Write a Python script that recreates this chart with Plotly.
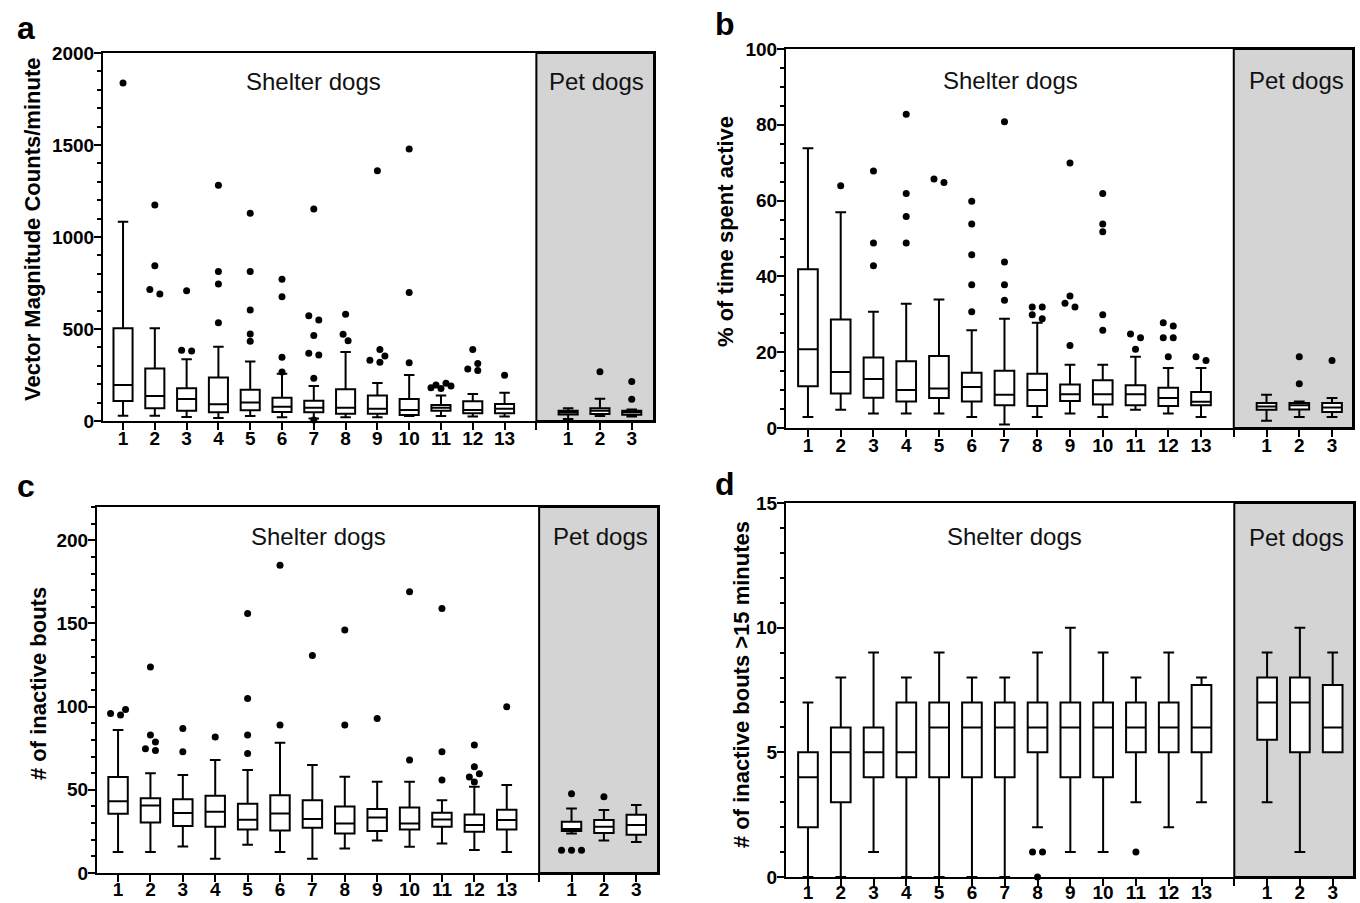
import numpy as np
import plotly.graph_objects as go

W, H = 1360, 903

# ---------------- categories / tick labels ----------------
shelter_labels = ["1", "2", "3", "4", "5", "6", "7", "8", "9", "10", "11", "12", "13"]
pet_labels = ["1", "2", "3"]
group_names = ["Shelter dogs", "Pet dogs"]

# ---------------- panel a: Vector Magnitude Counts/minute ----------------
a_lower = [29, 29, 22, 16, 27, 20, 14, 20, 20, 27, 27, 24, 24, 11, 27, 24]
a_q1 = [109, 69, 56, 47, 58, 49, 47, 40, 40, 33, 56, 42, 42, 36, 38, 34]
a_med = [196, 136, 120, 91, 100, 78, 72, 72, 67, 60, 72, 60, 67, 47, 56, 47]
a_q3 = [504, 286, 178, 236, 170, 127, 110, 172, 139, 120, 87, 107, 92, 56, 69, 56]
a_upper = [1083, 504, 335, 404, 324, 257, 190, 375, 207, 250, 138, 147, 154, 69, 121, 63]
a_out = [[1837], [1174, 844, 715, 690], [708, 385, 380], [1281, 813, 744, 534],
         [1129, 813, 603, 473, 433], [770, 675, 346, 266],
         [1152, 572, 549, 464, 368, 359, 232, 6], [580, 471, 436],
         [1360, 389, 353, 330, 319], [1478, 699, 317], [205, 196, 190, 181, 176],
         [389, 313, 283, 274], [248], [], [268], [214, 118]]

# ---------------- panel b: % of time spent active ----------------
b_lower = [2.9, 4.8, 3.8, 3.8, 3.8, 2.9, 0.9, 2.9, 3.8, 2.9, 4.8, 3.8, 2.9, 1.9, 2.9, 2.9]
b_q1 = [11.0, 9.1, 8.0, 7.0, 7.9, 7.0, 6.0, 5.8, 7.1, 6.2, 6.0, 5.8, 6.0, 4.8, 4.9, 4.2]
b_med = [20.8, 14.8, 12.9, 10.0, 10.4, 10.8, 8.8, 10.0, 8.9, 8.9, 8.9, 7.9, 6.9, 5.7, 6.0, 5.4]
b_q3 = [41.9, 28.6, 18.6, 17.6, 19.0, 14.6, 15.1, 14.3, 11.5, 12.6, 11.3, 10.6, 9.5, 6.6, 6.6, 6.6]
b_upper = [73.8, 56.9, 30.7, 32.8, 33.9, 25.8, 28.8, 27.8, 16.7, 16.7, 18.8, 15.8, 15.8, 8.8, 7.0, 7.9]
b_out = [[], [63.9], [67.8, 48.8, 42.8], [82.8, 61.9, 55.8, 48.8], [65.7, 64.8],
         [59.8, 53.8, 45.7, 37.8, 30.7], [80.8, 43.8, 37.8, 33.7], [31.9, 31.9, 29.9, 28.8],
         [69.9, 34.8, 32.9, 31.9, 21.8], [61.9, 53.8, 51.8, 29.9, 25.8], [24.8, 23.8, 20.8],
         [27.8, 26.9, 23.8, 23.8, 18.8], [18.8, 17.8], [], [18.8, 11.7], [17.8]]

# ---------------- panel c: # of inactive bouts ----------------
c_lower = [12.6, 12.6, 16, 8.6, 17, 12.6, 8.6, 14.8, 19.6, 15.8, 17.8, 13.8, 12.6, 23.8, 19.6, 18.6]
c_q1 = [35.6, 30.4, 28.2, 27.8, 26.2, 25.6, 27.2, 23.8, 25.2, 26.2, 27.8, 24.8, 26.2, 25.2, 24, 23]
c_med = [43.2, 40.6, 36, 36.8, 32, 35.8, 32.4, 29.8, 33.4, 29.8, 32.2, 28.8, 31.8, 26.4, 27.8, 28.8]
c_q3 = [57.7, 45, 44.4, 46.4, 41.6, 46.8, 43.8, 40, 38.4, 39.4, 36.2, 35.2, 38, 30.8, 31.8, 35]
c_upper = [85.9, 59.9, 58.9, 67.9, 61.9, 78.3, 64.9, 57.9, 54.9, 54.9, 43.8, 51.9, 52.9, 38.8, 37.8, 40.8]
c_out = [[98.3, 95.9, 94.9], [123.8, 83, 78.7, 74.7, 73.7], [86.9, 72.9], [81.8],
         [156, 104.9, 82.9, 71.9], [185, 88.9], [130.8], [146, 88.9], [92.9], [169, 67.9],
         [159, 72.9, 55.9], [76.9, 63.9, 59.7, 57.7, 54.7], [99.9], [47.6, 13.6, 13.6, 13.6],
         [45.8], []]

# ---------------- panel d: # of inactive bouts >15 minutes ----------------
d_lower = [0, 0, 1, 0, 0, 0, 0, 2, 1, 1, 3, 2, 3, 3, 1, 5]
d_q1 = [2, 3, 4, 4, 4, 4, 4, 5, 4, 4, 5, 5, 5, 5.5, 5, 5]
d_med = [4, 5, 5, 5, 6, 6, 6, 6, 6, 6, 6, 6, 6, 7, 7, 6]
d_q3 = [5, 6, 6, 7, 7, 7, 7, 7, 7, 7, 7, 7, 7.7, 8, 8, 7.7]
d_upper = [7, 8, 9, 8, 9, 8, 8, 9, 10, 9, 8, 9, 8, 9, 10, 9]
d_out = [[], [], [], [], [], [], [], [1, 1, 0], [], [], [1], [], [], [], [], []]

# ---------------- layout helpers ----------------
FONT = "Arial, Liberation Sans, sans-serif"
n_sh, n_pet = len(shelter_labels), len(pet_labels)
divider = n_sh + 1
positions = list(range(1, n_sh + 1)) + list(range(divider + 1, divider + 1 + n_pet))


def px_dom(p0, p1, total, flip=False):
    if flip:
        return [1 - p1 / total, 1 - p0 / total]
    return [p0 / total, p1 / total]


panels = [
    dict(letter="a", title="Vector Magnitude Counts/minute",
         stats=(a_lower, a_q1, a_med, a_q3, a_upper), out=a_out,
         xpx=(103, 654), ypx=(53, 421), xr=[0.37, 17.70], yr=[0, 2000], dtick=500, minor=100,
         letter_pos=(15, 28), title_pos=(32, 230), xstand=-8,
         shelter_pos=(313, 81), pet_pos=(596, 81)),
    dict(letter="b", title="% of time spent active",
         stats=(b_lower, b_q1, b_med, b_q3, b_upper), out=b_out,
         xpx=(786, 1353), ypx=(49, 428), xr=[0.33, 17.64], yr=[0, 100], dtick=20, minor=5,
         letter_pos=(713, 24), title_pos=(726, 232), xstand=-8,
         shelter_pos=(1010, 80), pet_pos=(1296, 80)),
    dict(letter="c", title="# of inactive bouts",
         stats=(c_lower, c_q1, c_med, c_q3, c_upper), out=c_out,
         xpx=(97, 658), ypx=(507, 873), xr=[0.35, 17.67], yr=[0, 220], dtick=50, minor=10,
         letter_pos=(15, 486), title_pos=(38, 684), xstand=-9,
         shelter_pos=(318, 536), pet_pos=(600, 536)),
    dict(letter="d", title="# of inactive bouts >15 minutes",
         stats=(d_lower, d_q1, d_med, d_q3, d_upper), out=d_out,
         xpx=(786, 1354), ypx=(503, 877), xr=[0.33, 17.65], yr=[0, 15], dtick=5, minor=1,
         letter_pos=(713, 484), title_pos=(741, 684), xstand=-10,
         shelter_pos=(1014, 536), pet_pos=(1296, 537)),
]


def swarm(vals, ppu_y, step=5.0, diam=7.0, maxoff=10.0):
    """Beeswarm offsets (in px) for outlier dots of one box."""
    n = len(vals)
    if n == 0:
        return []
    order = sorted(range(n), key=lambda i: vals[i])
    cands = [0.0]
    k = 1
    while k * step <= maxoff + 1e-9:
        cands += [-k * step, k * step]
        k += 1
    placed = {}
    for i in order:
        y = vals[i] * ppu_y
        best, bestd = 0.0, -1.0
        for c in cands:
            ds = [np.hypot(c - placed[j], y - vals[j] * ppu_y) for j in placed]
            dmin = min(ds) if ds else 1e9
            if dmin >= diam:
                best = c
                break
            if dmin > bestd:
                bestd, best = dmin, c
        placed[i] = best
    # recentre each cluster of touching dots
    clusters, cur = [], [order[0]]
    for a, b in zip(order[:-1], order[1:]):
        if (vals[b] - vals[a]) * ppu_y < diam:
            cur.append(b)
        else:
            clusters.append(cur)
            cur = [b]
    clusters.append(cur)
    for cl in clusters:
        offs = [placed[i] for i in cl]
        shift = (max(offs) + min(offs)) / 2
        for i in cl:
            placed[i] -= shift
    return [placed[i] for i in range(n)]


fig = go.Figure()
layout = dict(template="none", width=W, height=H, autosize=False,
              margin=dict(l=0, r=0, t=0, b=0, pad=0, autoexpand=False),
              paper_bgcolor="white", plot_bgcolor="white", showlegend=False,
              shapes=[], annotations=[], font=dict(family=FONT, color="black"))

for k, p in enumerate(panels):
    sfx = "" if k == 0 else str(k + 1)
    xa, ya = "x" + sfx, "y" + sfx
    xdom = px_dom(*p["xpx"], W)
    ydom = px_dom(*p["ypx"], H, flip=True)
    ppu_x = (p["xpx"][1] - p["xpx"][0]) / (p["xr"][1] - p["xr"][0])
    ppu_y = (p["ypx"][1] - p["ypx"][0]) / (p["yr"][1] - p["yr"][0])

    tickfont = dict(family=FONT, size=19, color="black", weight="bold")
    layout["xaxis" + sfx] = dict(
        domain=xdom, range=p["xr"], anchor=ya, automargin=False,
        tickmode="array", tickvals=positions[:n_sh] + [divider] + positions[n_sh:],
        ticktext=shelter_labels + [""] + pet_labels,
        ticks="outside", ticklen=7, tickwidth=2, tickcolor="black",
        ticklabelstandoff=p["xstand"],
        showline=True, linewidth=2, linecolor="black", mirror=True,
        showgrid=False, zeroline=False, tickfont=tickfont, fixedrange=True)
    layout["yaxis" + sfx] = dict(
        domain=ydom, range=p["yr"], anchor=xa, automargin=False,
        tick0=0, dtick=p["dtick"],
        ticks="outside", ticklen=7, tickwidth=2, tickcolor="black",
        ticklabelstandoff=-4,
        minor=dict(dtick=p["minor"], tick0=0, ticks="outside", ticklen=4, tickwidth=1.5,
                   tickcolor="black", showgrid=False),
        showline=True, linewidth=2, linecolor="black", mirror=True,
        showgrid=False, zeroline=False, tickfont=tickfont, fixedrange=True)

    # grey pet-dog region
    layout["shapes"].append(dict(
        type="rect", xref=xa, yref=ya + " domain", x0=divider, x1=p["xr"][1], y0=0, y1=1,
        fillcolor="#d4d4d4", line=dict(color="black", width=2), layer="below"))

    lower, q1, med, q3, upper = p["stats"]
    fig.add_trace(go.Box(
        x=positions, q1=q1, median=med, q3=q3, lowerfence=lower, upperfence=upper,
        xaxis=xa, yaxis=ya, fillcolor="white", line=dict(color="black", width=2),
        width=0.6, whiskerwidth=0.55, boxpoints=False, hoverinfo="skip"))

    ox, oy = [], []
    for pos, vals in zip(positions, p["out"]):
        offs = swarm(vals, ppu_y)
        for v, o in zip(vals, offs):
            ox.append(pos + o / ppu_x)
            oy.append(v)
    fig.add_trace(go.Scatter(
        x=ox, y=oy, mode="markers", xaxis=xa, yaxis=ya, cliponaxis=False,
        marker=dict(color="black", size=7, line=dict(width=0)), hoverinfo="skip"))

    # texts
    lx, ly = p["letter_pos"]
    layout["annotations"].append(dict(
        text=p["letter"], xref="paper", yref="paper", x=lx / W, y=1 - ly / H,
        xanchor="left", yanchor="middle", showarrow=False,
        font=dict(family=FONT, size=32, color="black", weight="bold")))
    tx, ty = p["title_pos"]
    layout["annotations"].append(dict(
        text=p["title"], xref="paper", yref="paper", x=tx / W, y=1 - ty / H,
        xanchor="center", yanchor="middle", textangle=-90, showarrow=False,
        font=dict(family=FONT, size=22, color="black", weight="bold")))
    for name, (gx, gy) in zip(group_names, (p["shelter_pos"], p["pet_pos"])):
        layout["annotations"].append(dict(
            text=name, xref="paper", yref="paper", x=gx / W, y=1 - gy / H,
            xanchor="center", yanchor="middle", showarrow=False,
            font=dict(family=FONT, size=24, color="#111111")))

fig.update_layout(**layout)
fig.write_html("out.html", post_script="document.body.style.margin='0px';",
               config={"displayModeBar": False})
